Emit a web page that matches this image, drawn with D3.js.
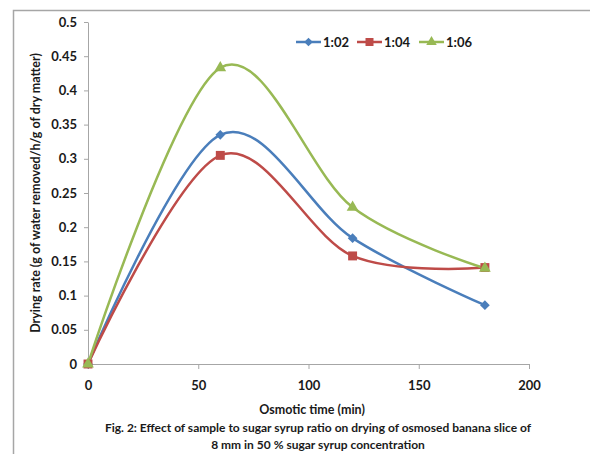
<!DOCTYPE html>
<html>
<head>
<meta charset="utf-8">
<script src="https://cdn.jsdelivr.net/npm/d3@7"></script>
<style>
  body { margin: 0; background: #fff; }
  text { font-family: Lato, "Open Sans", sans-serif; fill: #1a1a1a; }
</style>
</head>
<body>
<svg id="chart" width="590" height="454"></svg>
<script>
// data
const times = [0, 60, 120, 180];
const ratio102 = [0, 0.335, 0.184, 0.086];
const ratio104 = [0, 0.305, 0.158, 0.141];
const ratio106 = [0, 0.433, 0.229, 0.140];
const seriesNames = ["1:02", "1:04", "1:06"];
const yTicks = [0, 0.05, 0.1, 0.15, 0.2, 0.25, 0.3, 0.35, 0.4, 0.45, 0.5];
const xTicks = [0, 50, 100, 150, 200];

const series = [
  {name: seriesNames[0], values: ratio102, color: "#4a7ebb", shape: d3.symbolDiamond2, size: 60},
  {name: seriesNames[1], values: ratio104, color: "#be4b48", shape: d3.symbolSquare, size: 80},
  {name: seriesNames[2], values: ratio106, color: "#98b954", shape: d3.symbolTriangle, size: 60}
];

const svg = d3.select("#chart");

// outer frame (only left and top edges visible)
svg.append("path")
  .attr("d", "M13.5,454 L13.5,10.5 L590,10.5")
  .attr("fill", "none")
  .attr("stroke", "#a6a6a6")
  .attr("stroke-width", 1.5);

const x = d3.scaleLinear().domain([0, 200]).range([88, 529]);
const y = d3.scaleLinear().domain([0, 0.5]).range([364, 22]);

// y axis
const yAxis = svg.append("g")
  .attr("transform", "translate(88,0)")
  .call(d3.axisLeft(y).tickValues(yTicks).tickSize(4).tickSizeOuter(0).tickPadding(7).tickFormat(d => d3.format("")(+d.toFixed(2))));
// x axis
const xAxis = svg.append("g")
  .attr("transform", "translate(0,364)")
  .call(d3.axisBottom(x).tickValues(xTicks).tickSize(5).tickSizeOuter(0).tickPadding(12));

[yAxis, xAxis].forEach(g => {
  g.selectAll("path, line").attr("stroke", "#a6a6a6");
  g.selectAll("text").style("font-size", "13px").style("font-weight", "bold").attr("fill", "#1a1a1a");
});

// lines
const line = d3.line()
  .x((d, i) => x(times[i]))
  .y(d => y(d))
  .curve(d3.curveCardinal.tension(0));

series.forEach(s => {
  svg.append("path")
    .datum(s.values)
    .attr("d", line)
    .attr("fill", "none")
    .attr("stroke", s.color)
    .attr("stroke-width", 2.5);
});

series.forEach(s => {
  svg.append("g").selectAll("path")
    .data(s.values)
    .join("path")
    .attr("transform", (d, i) => `translate(${x(times[i])},${y(d)})`)
    .attr("d", d3.symbol(s.shape, s.size))
    .attr("fill", s.color);
});

// legend
const legendX = [296, 357, 419];
series.forEach((s, i) => {
  const g = svg.append("g").attr("transform", `translate(${legendX[i]},42)`);
  g.append("line").attr("x1", 0).attr("x2", 25).attr("stroke", s.color).attr("stroke-width", 2.5);
  g.append("path").attr("transform", "translate(12.5,0)").attr("d", d3.symbol(s.shape, s.size * 0.8)).attr("fill", s.color);
  g.append("text").attr("x", 27).attr("y", 4.5).style("font-size", "13px").style("font-weight", "bold").text(s.name);
});

// axis titles
svg.append("text")
  .attr("transform", "translate(40,193) rotate(-90)")
  .attr("text-anchor", "middle")
  .style("font-size", "12.5px").style("font-weight", "bold")
  .text("Drying rate (g of water removed/h/g of dry matter)");

svg.append("text")
  .attr("x", 312).attr("y", 414)
  .attr("text-anchor", "middle")
  .style("font-size", "12.5px").style("font-weight", "bold")
  .text("Osmotic time (min)");

// caption
svg.append("text")
  .attr("x", 318).attr("y", 432)
  .attr("text-anchor", "middle")
  .style("font-size", "12px").style("font-weight", "bold")
  .text("Fig. 2: Effect of sample to sugar syrup ratio on drying of osmosed banana slice of");
svg.append("text")
  .attr("x", 318).attr("y", 449)
  .attr("text-anchor", "middle")
  .style("font-size", "12px").style("font-weight", "bold")
  .text("8 mm in 50 % sugar syrup concentration");
</script>
</body>
</html>
